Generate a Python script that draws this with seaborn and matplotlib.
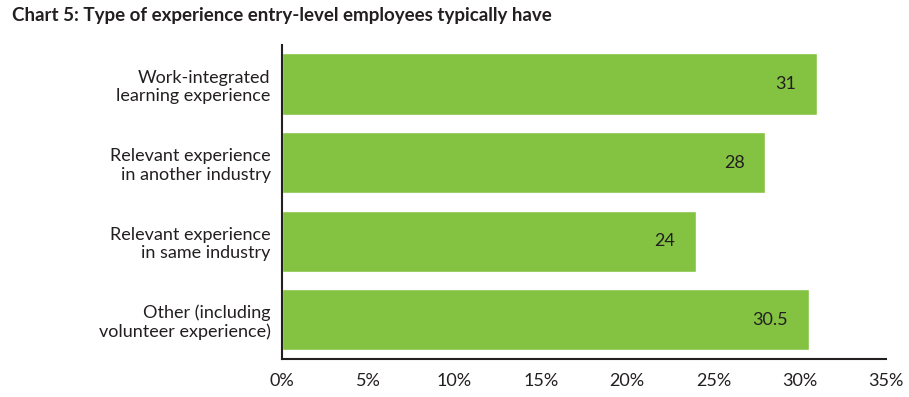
import matplotlib
matplotlib.use("Agg")
import matplotlib.pyplot as plt
import seaborn as sns
import pandas as pd

categories = ["Work-integrated\nlearning experience",
              "Relevant experience\nin another industry",
              "Relevant experience\nin same industry",
              "Other (including\nvolunteer experience)"]
values = [31, 28, 24, 30.5]
value_labels = ["31", "28", "24", "30.5"]
ticks = [0, 5, 10, 15, 20, 25, 30, 35]
tick_labels = ["0%", "5%", "10%", "15%", "20%", "25%", "30%", "35%"]

df = pd.DataFrame({"cat": categories, "val": values})

sns.set_style("white")
plt.rcParams['font.family'] = ['Lato', 'DejaVu Sans']

fig = plt.figure(figsize=(9.09, 3.97), dpi=100)
ax = fig.add_axes([0.310, 0.096, 0.665, 0.791])

sns.barplot(data=df, x="val", y="cat", color="#84C341", width=0.78,
            saturation=1, ax=ax, orient="h")

for i, (v, lab) in enumerate(zip(values, value_labels)):
    ax.text(v - 1.2, i, lab, ha="right", va="center", fontsize=13, color="#231f20")

ax.set_xlim(0, 35)
ax.set_ylim(3.5, -0.5)
ax.set_xticks(ticks)
ax.set_xticklabels(tick_labels, fontsize=13, color="#231f20")
ax.tick_params(axis="y", labelsize=13, length=0, pad=8, colors="#231f20")
ax.tick_params(axis="x", direction="in", length=6, width=1.5, color="#231f20", pad=10)
ax.set_xlabel("")
ax.set_ylabel("")
for s in ["top", "right"]:
    ax.spines[s].set_visible(False)
for s in ["left", "bottom"]:
    ax.spines[s].set_linewidth(1.5)
    ax.spines[s].set_color("#231f20")

fig.text(0.013, 0.96, "Chart 5: Type of experience entry-level employees typically have",
         fontsize=13.5, fontweight="bold", color="#231f20", va="center", ha="left")

plt.savefig("out.png", dpi=100)
